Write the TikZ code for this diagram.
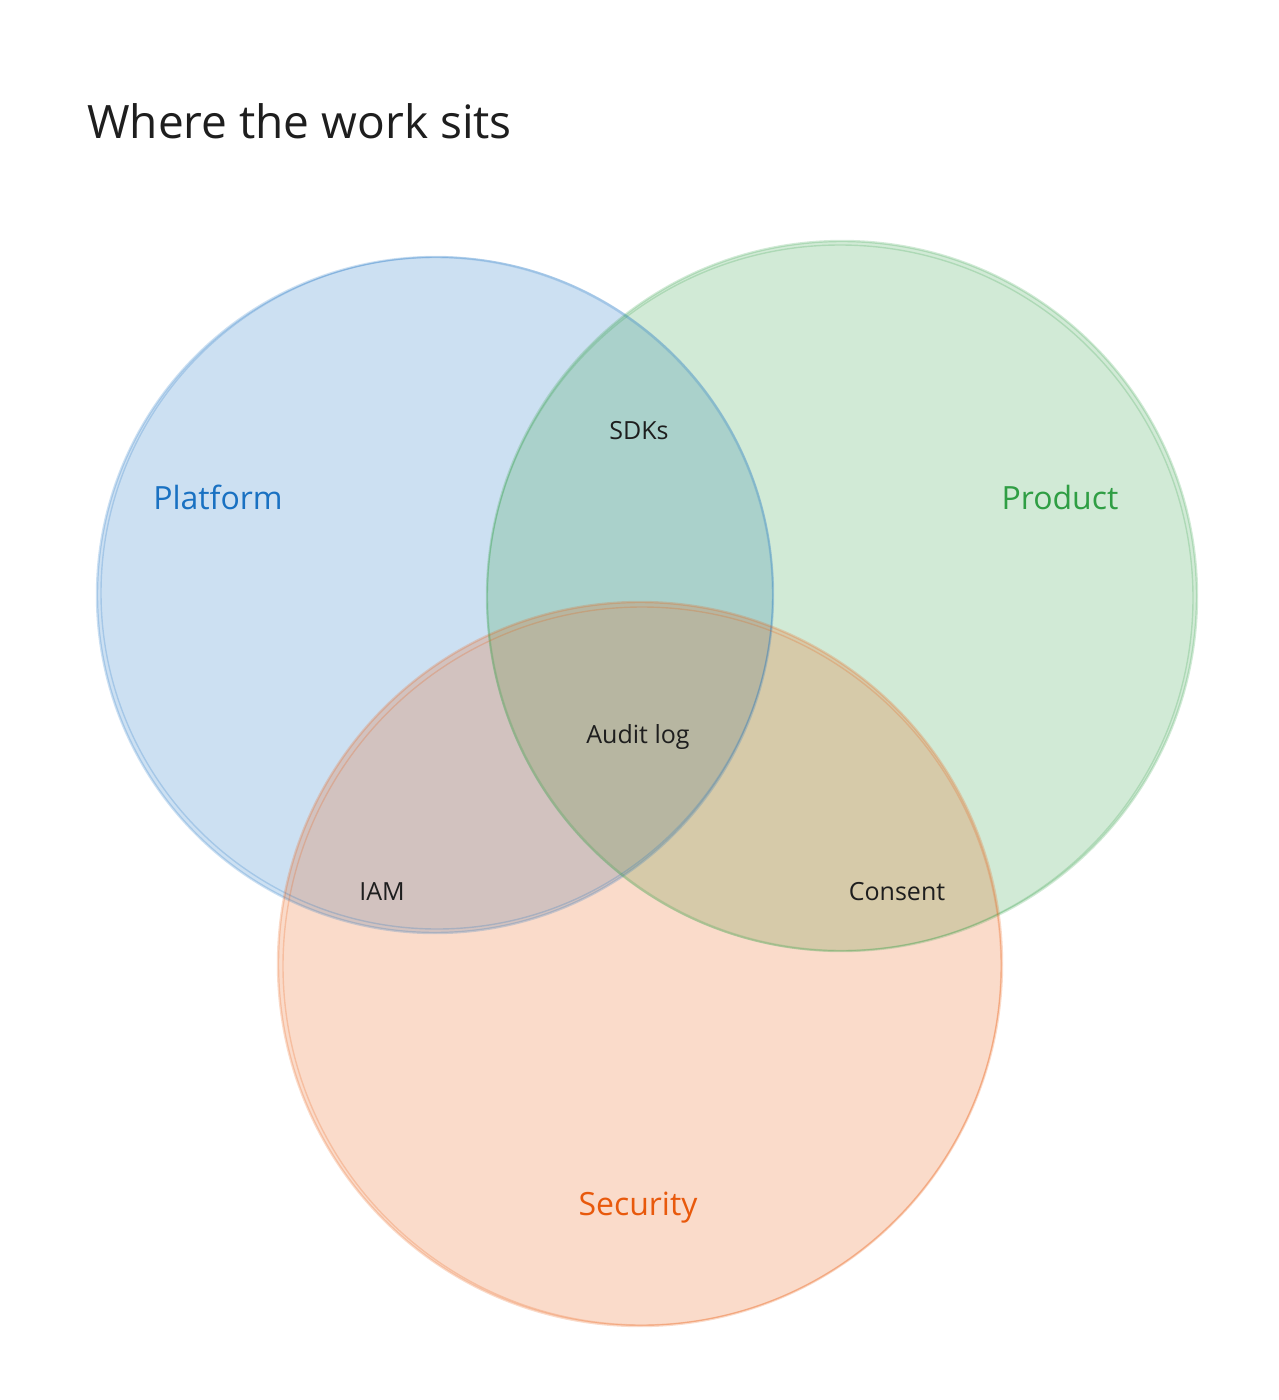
\documentclass[tikz,border=0pt]{standalone}
\usepackage{fontspec}
\setmainfont{Open Sans}
\definecolor{pblue}{HTML}{1971C2}
\definecolor{pgreen}{HTML}{2F9E44}
\definecolor{porange}{HTML}{E8590C}
\definecolor{ink}{HTML}{1E1E1E}
\begin{document}
\begin{tikzpicture}[x=1pt,y=-1pt,
  setfill/.style={fill=#1,fill opacity=0.22,draw=none},
  setedge/.style={draw=#1,draw opacity=0.22,line width=2.4pt},
  setlabel/.style={text=#1,font=\fontsize{32}{34}\selectfont,inner sep=0pt},
  itemlabel/.style={text=ink,font=\fontsize{25}{27}\selectfont,inner sep=0pt},
  title/.style={text=ink,font=\fontsize{46}{50}\selectfont,inner sep=0pt,anchor=base west}]
\useasboundingbox (0,0) rectangle (1279,1400);
% circles
\coordinate (cb) at (435,595);
\coordinate (cg) at (842,596);
\coordinate (co) at (640,964);
\fill[setfill=pblue] (cb) circle[radius=338pt];
\fill[setfill=pgreen] (cg) circle[radius=355pt];
\fill[setfill=porange] (co) circle[radius=362pt];
% sketchy outlines
\draw[setedge=pblue] (cb) circle[radius=338pt];
\draw[setedge=pblue,line width=1.4pt] ([shift={(2,-2)}]cb) circle[radius=336pt];
\draw[setedge=pgreen] (cg) circle[radius=355pt];
\draw[setedge=pgreen,line width=1.4pt] ([shift={(-2,2)}]cg) circle[radius=353pt];
\draw[setedge=porange] (co) circle[radius=362pt];
\draw[setedge=porange,line width=1.4pt] ([shift={(2,2)}]co) circle[radius=359pt];
% title
\node[title] (t) at (87,138) {Where the work sits};
% set labels
\node[setlabel=pblue] (lp) at (218,497) {Platform};
\node[setlabel=pgreen] (lr) at (1060,497) {Product};
\node[setlabel=porange] (ls) at (638,1208) {Security};
% region labels
\node[itemlabel] (sdk) at (639,431) {SDKs};
\node[itemlabel] (aud) at (638,737) {Audit log};
\node[itemlabel] (iam) at (382,892) {IAM};
\node[itemlabel] (con) at (897,892) {Consent};
\end{tikzpicture}
\end{document}
